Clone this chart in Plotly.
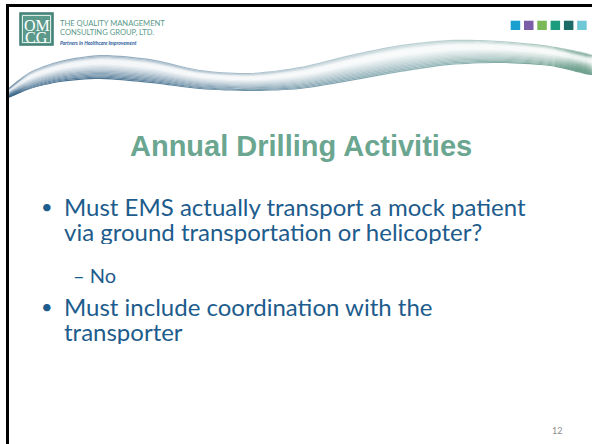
import plotly.graph_objects as go

# ------------------------------------------------------------
# Contenido de la diapositiva
# ------------------------------------------------------------
titulo = "Annual Drilling Activities"
empresa_lineas = ["THE QUALITY MANAGEMENT", "CONSULTING GROUP, LTD."]
lema = "Partners In Healthcare Improvement"
vinetas = [
    ["Must EMS actually transport a mock patient",
     "via ground transportation or helicopter?"],
    ["Must include coordination with the",
     "transporter"],
]
sub_vineta = "– No"
numero_pagina = "12"
colores_cuadros = ["#1AA0D0", "#7A5FA8", "#7BB858", "#1B9C7C", "#1D6B66", "#6EC8D6"]

AZUL_TEXTO = "#1D5C8C"
VERDE_TITULO = "#6AA690"
VERDE_LOGO = "#5B9A8B"

W, H = 592, 444

fig = go.Figure()

# ------------------------------------------------------------
# Cinta ondulada (decoración) — franjas con degradado
# ------------------------------------------------------------
borde_sup = [(8, 89), (30, 72), (60, 61), (100, 55), (150, 59), (200, 70), (250, 73),
             (300, 67), (350, 55), (400, 45), (450, 40), (500, 41), (550, 46), (592, 55)]
borde_inf = [(8, 98), (30, 89), (60, 82), (100, 79), (150, 83), (200, 89), (250, 91),
             (300, 89), (350, 81), (400, 72), (450, 65), (500, 63), (550, 66), (592, 75)]


def mezcla(t):
    return [(xa, ya + (yb - ya) * t) for (xa, ya), (xb, yb) in zip(borde_sup, borde_inf)]


def alfa(t):
    a_sup = 0.65 * max(0.0, 1 - t / 0.22)
    a_inf = 1.0 * max(0.0, (t - 0.3) / 0.7) ** 1.2
    return max(a_sup, a_inf, 0.06)


N = 20
for i in range(N):
    t0, t1 = i / N, (i + 1) / N
    a = alfa((t0 + t1) / 2)
    c0, c1 = mezcla(t0), mezcla(t1)
    pts = c0 + c1[::-1] + [c0[0]]
    fig.add_trace(go.Scatter(
        x=[p[0] for p in pts], y=[p[1] for p in pts],
        mode="lines", fill="toself",
        line=dict(width=0, color="rgba(0,0,0,0)", shape="spline", smoothing=0.8),
        fillgradient=dict(
            type="horizontal",
            colorscale=[[0.0, f"rgba(55,100,135,{a})"],
                        [0.35, f"rgba(85,125,152,{a * 0.95})"],
                        [0.7, f"rgba(125,165,170,{a * 0.85})"],
                        [1.0, f"rgba(110,160,140,{a})"]],
        ),
        hoverinfo="skip", showlegend=False,
    ))

# ------------------------------------------------------------
# Marco, logotipo y cuadros de color
# ------------------------------------------------------------
formas = [
    dict(type="line", x0=6, x1=W, y0=5.5, y1=5.5, line=dict(color="black", width=3)),
    dict(type="line", x0=7.5, x1=7.5, y0=4, y1=H, line=dict(color="black", width=3)),
    dict(type="rect", x0=20, x1=53, y0=13, y1=45, fillcolor=VERDE_LOGO,
         line=dict(color="#3E7A70", width=1.5)),
    dict(type="rect", x0=22.5, x1=50.5, y0=15.5, y1=42.5, fillcolor="rgba(0,0,0,0)",
         line=dict(color="#DDEBE6", width=1)),
]
for i, color in enumerate(colores_cuadros):
    x0 = 510.7 + i * 13.3
    formas.append(dict(type="rect", x0=x0, x1=x0 + 9.5, y0=20.7, y1=30,
                       fillcolor=color, line=dict(width=0)))

anotaciones = []


def texto(x, y, t, size, color, family="Lato", xanchor="left", **kw):
    anotaciones.append(dict(x=x, y=y, text=t, showarrow=False, xanchor=xanchor,
                            yanchor="middle", font=dict(size=size, color=color, family=family),
                            **kw))


# Logotipo
texto(36.5, 25, "QM", 16, "white", family="Liberation Serif", xanchor="center", height=12)
texto(36.5, 37, "CG", 16, "white", family="Liberation Serif", xanchor="center", height=12)
texto(58, 22.5, empresa_lineas[0], 7.6, VERDE_LOGO)
texto(58, 31.5, empresa_lineas[1], 7.6, VERDE_LOGO)
texto(58, 42.5, f"<b><i>{lema}</i></b>", 5, "#2A5C9A")

# Título
texto(301, 145.5, f"<b>{titulo}</b>", 29, VERDE_TITULO, family="Liberation Sans",
      xanchor="center")

# Viñetas
filas = [(205.5, 230.5), (306, 331)]
for (ya, yb), lineas in zip(filas, vinetas):
    texto(46.5, ya, "•", 20, AZUL_TEXTO, xanchor="center")
    texto(62, ya, lineas[0], 24, AZUL_TEXTO, height=26)
    texto(62, yb, lineas[1], 24, AZUL_TEXTO, height=26)
texto(71, 275, sub_vineta, 20, AZUL_TEXTO)

# Número de página
texto(557, 430, numero_pagina, 9, "#8C8C8C", xanchor="center")

fig.update_layout(
    width=W, height=H,
    margin=dict(l=0, r=0, t=0, b=0),
    paper_bgcolor="white", plot_bgcolor="white",
    xaxis=dict(range=[0, W], visible=False, fixedrange=True),
    yaxis=dict(range=[H, 0], visible=False, fixedrange=True),
    shapes=formas,
    annotations=anotaciones,
    showlegend=False,
)

# la página HTML trae margen por defecto en <body>; se quita para alinear la diapositiva
fig.write_html("out.html", config={"displayModeBar": False},
               post_script="document.body.style.margin='0';")
